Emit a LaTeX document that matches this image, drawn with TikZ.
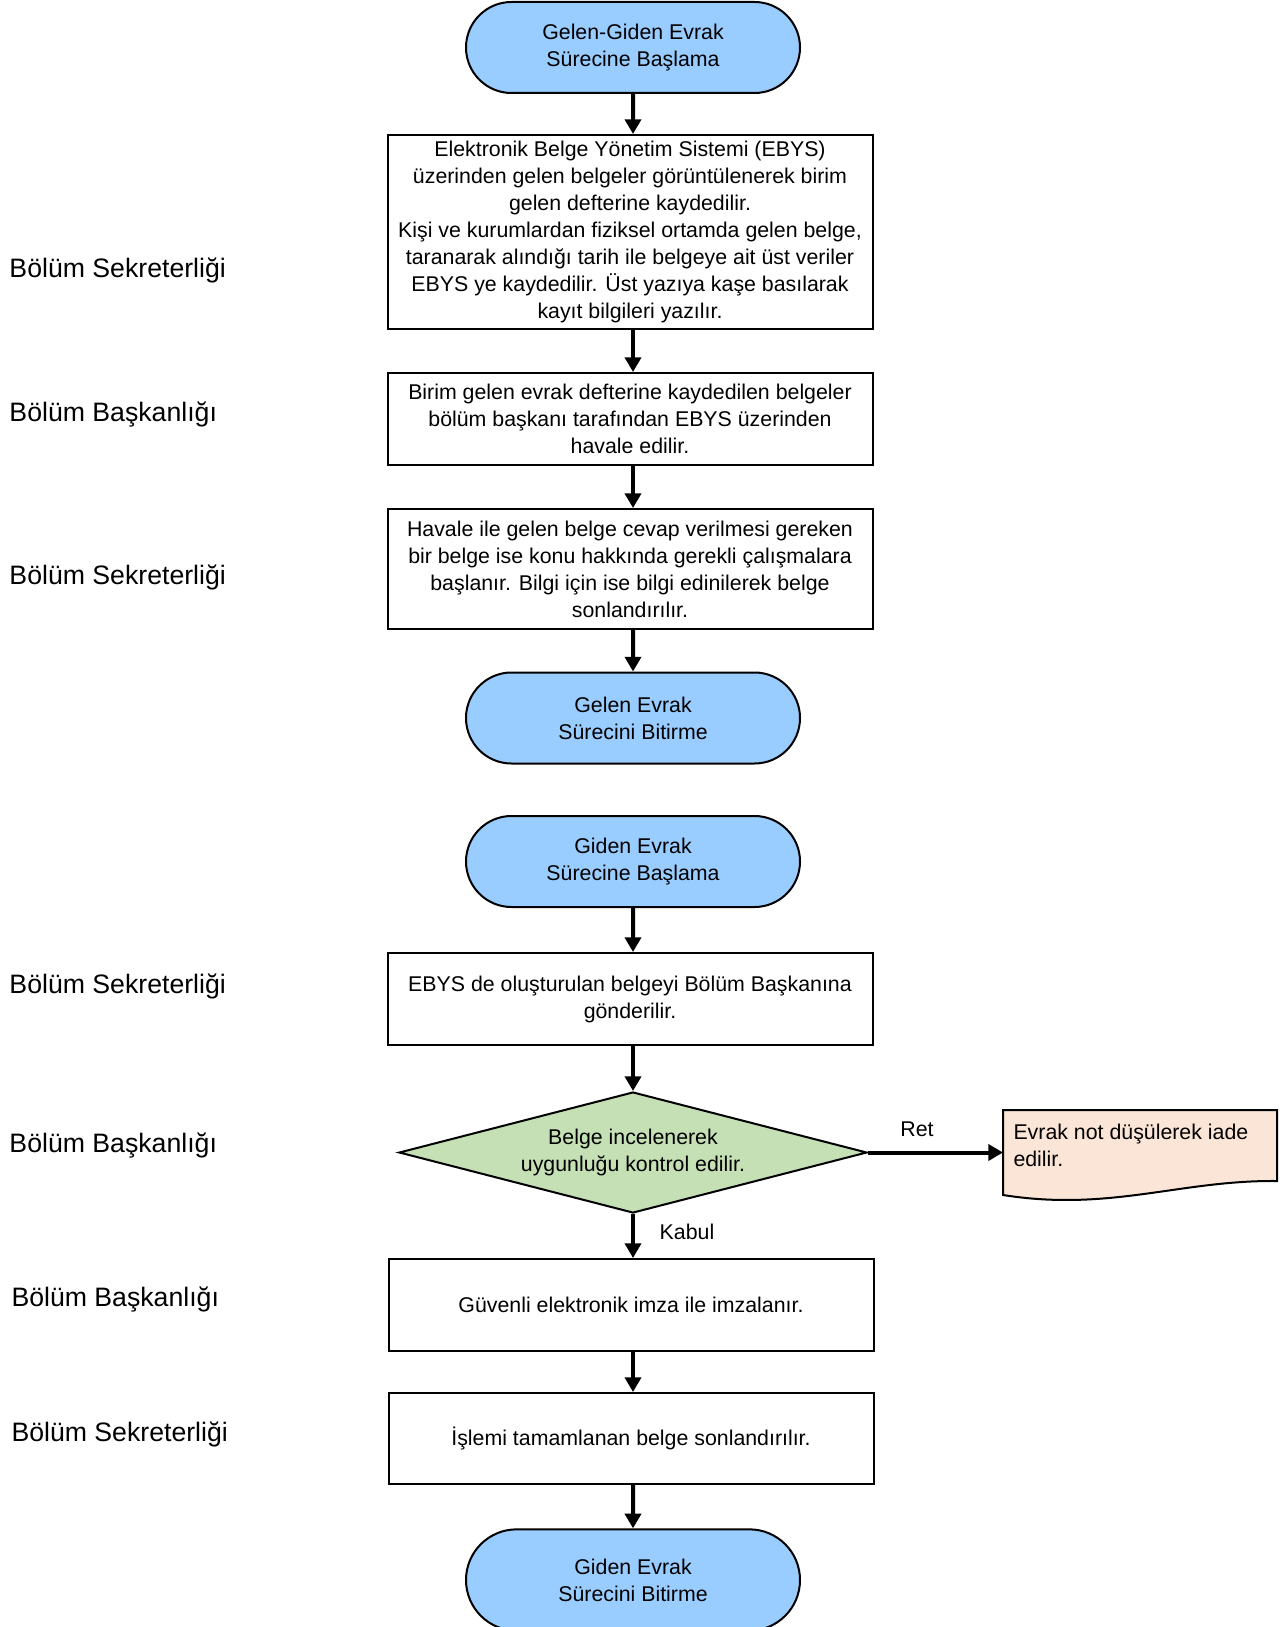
\documentclass[tikz,border=0pt]{standalone}
\usepackage{fontspec}
\setmainfont{Liberation Sans}
\usetikzlibrary{shapes.geometric,shapes.misc,arrows.meta}
\tikzset{every picture/.style={line width=0.75pt}}

\definecolor{termblue}{HTML}{99CCFF}
\definecolor{decgreen}{HTML}{C5E0B4}
\definecolor{docpeach}{HTML}{FBE5D6}

\newcommand{\flowfont}{\fontsize{16}{20.25}\selectfont}
\newcommand{\lanefont}{\fontsize{20}{24}\selectfont}

\tikzset{
  terminal/.style={rounded rectangle, draw, line width=1.5pt, fill=termblue,
    minimum width=250.5pt, minimum height=68.25pt, align=center, font=\flowfont, inner sep=0pt},
  procbox/.style={rectangle, draw, line width=1.5pt, fill=white,
    minimum width=363.75pt, align=center, font=\flowfont, inner sep=0pt},
  decision/.style={diamond, draw, line width=1.5pt, fill=decgreen, aspect=3.87,
    minimum width=351pt, minimum height=90.75pt, align=center, font=\flowfont, inner sep=0pt},
  lanelabel/.style={anchor=west, font=\lanefont, inner sep=0pt},
  flowarrow/.style={line width=3pt, -{Triangle[length=11pt,width=12pt]}},
  arrowtext/.style={font=\flowfont, inner sep=0pt}
}

\begin{document}
\begin{tikzpicture}[x=0.75pt,y=0.75pt,yscale=-1,xscale=1]
\useasboundingbox (0,0) rectangle (1281,1627);

%Shape: Terminals and process boxes
\node[terminal] (startall) at (633,47.5) {Gelen-Giden Evrak\\Sürecine Başlama};
\node[procbox, minimum height=145.5pt] (register) at (630,232) {Elektronik Belge Yönetim Sistemi (EBYS)\\üzerinden gelen belgeler görüntülenerek birim\\gelen defterine kaydedilir.\\Kişi ve kurumlardan fiziksel ortamda gelen belge,\\taranarak alındığı tarih ile belgeye ait üst veriler\\EBYS ye kaydedilir. Üst yazıya kaşe basılarak\\kayıt bilgileri yazılır.};
\node[procbox, minimum height=69pt] (forward) at (630,419) {Birim gelen evrak defterine kaydedilen belgeler\\bölüm başkanı tarafından EBYS üzerinden\\havale edilir.};
\node[procbox, minimum height=90pt] (answer) at (630,569) {Havale ile gelen belge cevap verilmesi gereken\\bir belge ise konu hakkında gerekli çalışmalara\\başlanır. Bilgi için ise bilgi edinilerek belge\\sonlandırılır.};
\node[terminal] (endin) at (633,718) {Gelen Evrak\\Sürecini Bitirme};

\node[terminal] (startout) at (633,861.5) {Giden Evrak\\Sürecine Başlama};
\node[procbox, minimum height=69pt] (create) at (630,999) {EBYS de oluşturulan belgeyi Bölüm Başkanına\\gönderilir.};
\node[decision] (check) at (633,1152.5) {Belge incelenerek\\uygunluğu kontrol edilir.};
\node[procbox, minimum height=69pt] (sign) at (631,1305) {Güvenli elektronik imza ile imzalanır.};
\node[procbox, minimum height=68.25pt] (close) at (631,1438.5) {İşlemi tamamlanan belge sonlandırılır.};
\node[terminal, minimum height=76pt] (endout) at (633,1580) {Giden Evrak\\Sürecini Bitirme};

%Shape: Document
\draw[line width=1.5pt, fill=docpeach] (1003,1110) -- (1277,1110) -- (1277,1181) .. controls (1180,1180) and (1110,1212) .. (1003,1195) -- cycle;
\coordinate (docin) at (1003,1152.5);
% Text Node
\node[arrowtext, anchor=west, align=left] (returned) at (1013,1145.5) {Evrak not düşülerek iade\\edilir.};

%Straight Lines
\draw[flowarrow] (startall) -- (startall |- register.north);
\draw[flowarrow] (startall |- register.south) -- (startall |- forward.north);
\draw[flowarrow] (startall |- forward.south) -- (startall |- answer.north);
\draw[flowarrow] (answer.south -| endin) -- (endin);
\draw[flowarrow] (startout) -- (create.north -| startout);
\draw[flowarrow] (create.south -| check) -- (check);
\draw[flowarrow] (check) -- (sign.north -| check);
\draw[flowarrow] (sign.south -| endout) -- (close.north -| endout);
\draw[flowarrow] (close.south -| endout) -- (endout);
\draw[flowarrow] (check) -- (docin);

% Text Node
\node[arrowtext] (ret) at (917,1129) {Ret};
% Text Node
\node[arrowtext] (kabul) at (687,1232) {Kabul};

% Text Node
\node[lanelabel] (lane1) at (9,270) {Bölüm Sekreterliği};
\node[lanelabel] (lane2) at (9,414) {Bölüm Başkanlığı};
\node[lanelabel] (lane3) at (9,577) {Bölüm Sekreterliği};
\node[lanelabel] (lane4) at (9,986) {Bölüm Sekreterliği};
\node[lanelabel] (lane5) at (9,1145) {Bölüm Başkanlığı};
\node[lanelabel] (lane6) at (11,1299) {Bölüm Başkanlığı};
\node[lanelabel] (lane7) at (11,1434) {Bölüm Sekreterliği};

\end{tikzpicture}
\end{document}
